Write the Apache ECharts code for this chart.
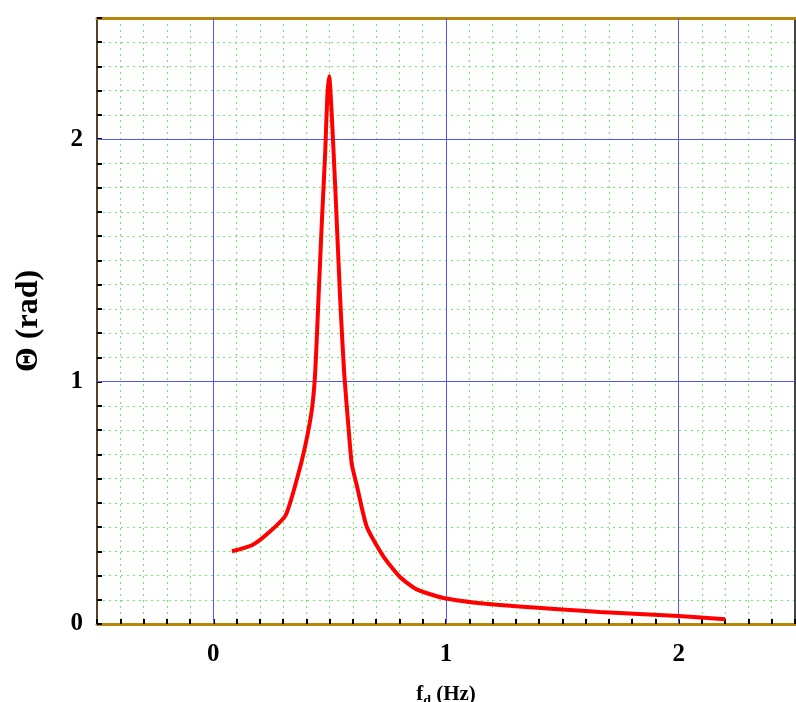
<!DOCTYPE html>
<html>
<head>
<meta charset="utf-8">
<script src="https://cdn.jsdelivr.net/npm/echarts@6/dist/echarts.min.js"></script>
<style>html,body{margin:0;padding:0;background:#fff}#chart{width:796px;height:702px}</style>
</head>
<body>
<div id="chart"></div>
<script>
const freq = [0.08, 0.166, 0.23, 0.31, 0.36, 0.395, 0.424, 0.438, 0.452, 0.466, 0.481, 0.49, 0.498, 0.509, 0.524, 0.545, 0.562, 0.581, 0.595, 0.617, 0.66, 0.73, 0.80, 0.874, 1.0, 1.23, 1.66, 2.0, 2.2];
const theta = [0.30, 0.325, 0.37, 0.447, 0.60, 0.735, 0.888, 1.04, 1.344, 1.65, 1.95, 2.18, 2.26, 2.10, 1.80, 1.344, 1.04, 0.81, 0.66, 0.57, 0.40, 0.28, 0.196, 0.143, 0.105, 0.078, 0.05, 0.033, 0.02];
const majorX = [0, 1, 2];
const majorY = [1, 2];

const chart = echarts.init(document.getElementById('chart'));
const font = '"Liberation Serif", "DejaVu Serif", serif';
const intLabel = (v) => Math.abs(v - Math.round(v)) < 1e-6 ? String(Math.round(v)) : '';
const gridLine = { show: true, lineStyle: { color: '#66ee66', type: [2, 4], width: 1 } };

chart.setOption({
  animation: false,
  grid: { left: 97, right: 1, top: 18, bottom: 78, outerBoundsMode: 'none', containLabel: false },
  xAxis: [{
    type: 'value', min: -0.5, max: 2.5, interval: 0.1,
    name: '{f|f}{s|d}{f| (Hz)}', nameLocation: 'middle', nameGap: 58,
    nameTextStyle: { rich: { f: { fontFamily: font, fontWeight: 'bold', fontSize: 21, color: '#000' }, s: { fontFamily: font, fontWeight: 'bold', fontSize: 14, color: '#000', padding: [12, 0, 0, 0] } } },
    axisLine: { onZero: false, lineStyle: { color: '#b8860b', width: 3 } },
    axisTick: { inside: true, length: 5, lineStyle: { color: '#000', width: 2 } },
    axisLabel: { formatter: intLabel, margin: 18, fontFamily: font, fontWeight: 'bold', fontSize: 25, color: '#000' },
    splitLine: gridLine
  }, {
    type: 'value', position: 'top', min: -0.5, max: 2.5,
    axisLine: { show: true, onZero: false, lineStyle: { color: '#b8860b', width: 3 } },
    axisTick: { show: false }, axisLabel: { show: false }, splitLine: { show: false }
  }],
  yAxis: [{
    type: 'value', min: 0, max: 2.5, interval: 0.1,
    name: 'Θ (rad)', nameLocation: 'middle', nameGap: 52, nameRotate: 90,
    nameTextStyle: { fontFamily: font, fontWeight: 'bold', fontSize: 32, color: '#000' },
    axisLine: { show: true, onZero: false, lineStyle: { color: '#554422', width: 2 } },
    axisTick: { inside: true, length: 5, lineStyle: { color: '#000', width: 2 } },
    axisLabel: { formatter: intLabel, margin: 14, fontFamily: font, fontWeight: 'bold', fontSize: 25, color: '#000' },
    splitLine: gridLine
  }, {
    type: 'value', position: 'right', min: 0, max: 2.5,
    axisLine: { show: true, onZero: false, lineStyle: { color: '#444', width: 2 } },
    axisTick: { show: false }, axisLabel: { show: false }, splitLine: { show: false }
  }],
  series: [{
    type: 'line',
    data: freq.map((f, i) => [f, theta[i]]),
    showSymbol: false,
    smooth: 0.2,
    lineStyle: { color: '#ff0000', width: 4 },
    z: 5,
    markLine: {
      silent: true, symbol: 'none', label: { show: false },
      lineStyle: { color: '#5555ff', type: 'solid', width: 1 },
      data: majorX.map(v => ({ xAxis: v })).concat(majorY.map(v => ({ yAxis: v })))
    }
  }]
});
</script>
</body>
</html>
